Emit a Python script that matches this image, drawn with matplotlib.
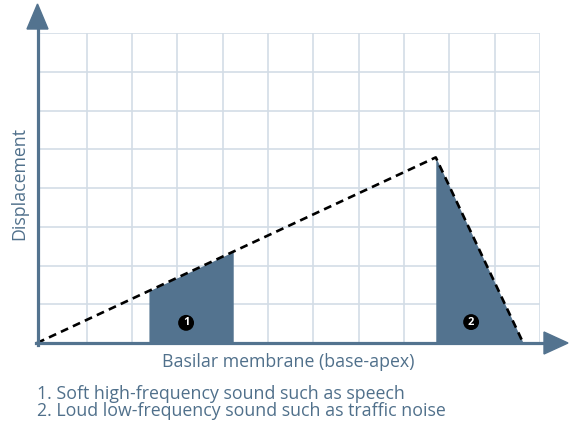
import matplotlib.pyplot as plt
import numpy as np

# displacement curve (grid units)
curve_x = [-0.1, 8.70, 10.63]
curve_y = [0.0, 4.79, 0.0]

# shaded regions (start, end) along the membrane
region1 = (2.37, 4.23)
region2 = (8.70, 10.63)
marker_pos = [(3.19, 0.52), (9.48, 0.54)]
marker_labels = ["1", "2"]

notes = ["1. Soft high-frequency sound such as speech",
         "2. Loud low-frequency sound such as traffic noise"]

blue = "#53738f"
grid_col = "#d3dde6"
txt_col = "#50708b"

plt.rcParams['font.family'] = ['Open Sans', 'DejaVu Sans']

fig = plt.figure(figsize=(5.69, 4.23), dpi=100)
W, H = 569, 423
ax = fig.add_axes([37 / W, 1 - 343 / H, (540 - 37) / W, (343 - 33) / H])
ax.set_xlim(-0.1, 11)
ax.set_ylim(0, 8)

ax.set_xticks(np.arange(1, 12))
ax.set_yticks(np.arange(0, 9))
ax.grid(True, color=grid_col, linewidth=1.2)
ax.tick_params(length=0, labelbottom=False, labelleft=False)
for s in ["top", "right", "left", "bottom"]:
    ax.spines[s].set_visible(False)
ax.set_axisbelow(True)

def curve_at(x):
    return np.interp(x, curve_x, curve_y)

for (a, b) in [region1, region2]:
    xs = np.array([a] + [cx for cx in curve_x if a < cx < b] + [b])
    ax.fill_between(xs, 0, curve_at(xs), color=blue, linewidth=0, zorder=2)

ax.plot(curve_x, curve_y, color="black", linestyle=(0, (3, 2)), linewidth=1.9,
        zorder=3, clip_on=False)

for (mx, my), lab in zip(marker_pos, marker_labels):
    ax.text(mx, my, lab, color="white", fontsize=8, fontweight="bold",
            ha="center", va="center", zorder=4,
            bbox=dict(boxstyle="circle,pad=0.22", fc="black", ec="none"))

# axis arrows in figure pixels
def px(x, y):
    return (x / W, 1 - y / H)

fig.add_artist(plt.Line2D([px(37.5, 0)[0]] * 2, [px(0, 345)[1], px(0, 25)[1]],
                          color=blue, linewidth=2.3))
fig.add_artist(plt.Line2D([px(36, 0)[0], px(548, 0)[0]], [px(0, 343)[1]] * 2,
                          color=blue, linewidth=2.3))
fig.add_artist(plt.Polygon([px(37.5, 4), px(27, 29), px(48, 29)],
                           closed=True, color=blue))
fig.add_artist(plt.Polygon([px(568, 343), px(544, 332), px(544, 354)],
                           closed=True, color=blue))

fs = 12.8
fig.text(288 / W, 1 - 367 / H, "Basilar membrane (base-apex)", color=txt_col,
         fontsize=fs, ha="center", va="baseline")
fig.text(24 / W, 1 - 183 / H, "Displacement", color=txt_col, fontsize=fs,
         ha="center", va="baseline", rotation=90, rotation_mode="anchor")
fig.text(37 / W, 1 - 399 / H, notes[0], color=txt_col, fontsize=fs,
         ha="left", va="baseline")
fig.text(37 / W, 1 - 416 / H, notes[1], color=txt_col, fontsize=fs,
         ha="left", va="baseline")

fig.savefig("out.png", dpi=100)
